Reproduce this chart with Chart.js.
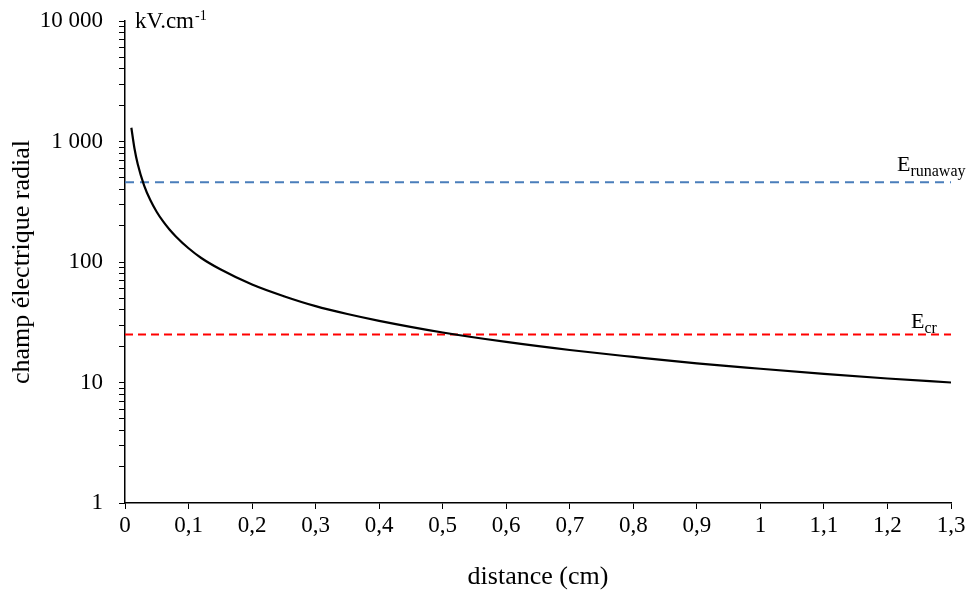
<!DOCTYPE html>
<html>
<head>
<meta charset="utf-8">
<script src="https://cdn.jsdelivr.net/npm/chart.js@4/dist/chart.umd.min.js"></script>
<style>
  html, body { margin: 0; padding: 0; background: #fff; }
  #c { display: block; }
</style>
</head>
<body>
<canvas id="c" width="973" height="590"></canvas>
<script>
// ---- data ----
const distance = [0.01, 0.015, 0.02, 0.03, 0.04, 0.05, 0.06, 0.07, 0.08, 0.1, 0.12, 0.15, 0.2, 0.25, 0.3, 0.35, 0.4, 0.5, 0.6, 0.7, 0.8, 0.9, 1.0, 1.1, 1.2, 1.3];
const champ    = [1300, 870, 650, 433, 325, 260, 217, 186, 163, 130, 108, 87, 65, 52, 43, 37, 32.5, 26, 21.7, 18.6, 16.3, 14.4, 13, 11.8, 10.8, 10];
const eRunaway = 460;
const eCr = 25;
const xRange = [0, 1.3];
const yMajorTicks = [1, 10, 100, 1000, 10000];
const yTickLabels = ['1', '10', '100', '1 000', '10 000'];
const xTitle = 'distance (cm)';
const yTitle = 'champ électrique radial';
const unitLabel = 'kV.cm';
const unitSup = '-1';

const FONT = '"Liberation Serif", "Times New Roman", serif';

const curve = distance.map((d, i) => ({ x: d, y: champ[i] }));
const runawayLine = xRange.map(x => ({ x: x, y: eRunaway }));
const crLine = xRange.map(x => ({ x: x, y: eCr }));

const labelsPlugin = {
  id: 'labels',
  afterDraw(chart) {
    const ctx = chart.ctx;
    const xs = chart.scales.x, ys = chart.scales.y;
    ctx.save();
    ctx.fillStyle = '#000';
    ctx.textBaseline = 'alphabetic';
    ctx.textAlign = 'left';
    // E_runaway
    let x0 = xs.getPixelForValue(xRange[1]) - 54;
    let y0 = ys.getPixelForValue(eRunaway) - 11;
    ctx.font = '22px ' + FONT;
    ctx.fillText('E', x0, y0);
    let w = ctx.measureText('E').width;
    ctx.font = '16px ' + FONT;
    ctx.fillText('runaway', x0 + w, y0 + 5);
    // E_cr
    x0 = xs.getPixelForValue(xRange[1]) - 40;
    y0 = ys.getPixelForValue(eCr) - 7;
    ctx.font = '22px ' + FONT;
    ctx.fillText('E', x0, y0);
    w = ctx.measureText('E').width;
    ctx.font = '16px ' + FONT;
    ctx.fillText('cr', x0 + w, y0 + 5);
    // unit
    x0 = chart.chartArea.left + 10;
    y0 = chart.chartArea.top + 7;
    ctx.font = '23px ' + FONT;
    ctx.fillText(unitLabel, x0, y0);
    w = ctx.measureText(unitLabel).width;
    ctx.font = '14px ' + FONT;
    ctx.fillText(unitSup, x0 + w + 1, y0 - 8);
    ctx.restore();
  }
};

new Chart(document.getElementById('c'), {
  type: 'scatter',
  data: {
    datasets: [
      {
        data: curve, showLine: true, borderColor: '#000', borderWidth: 2.2,
        pointRadius: 0, cubicInterpolationMode: 'monotone', fill: false
      },
      {
        data: runawayLine, showLine: true, borderColor: '#4a7ebb', borderWidth: 2,
        borderDash: [9, 6], pointRadius: 0, fill: false
      },
      {
        data: crLine, showLine: true, borderColor: '#ff0000', borderWidth: 2,
        borderDash: [8, 5], pointRadius: 0, fill: false
      }
    ]
  },
  options: {
    responsive: false,
    animation: false,
    layout: { padding: { left: 0, right: 22, top: 21, bottom: 0 } },
    plugins: { legend: { display: false }, tooltip: { enabled: false } },
    scales: {
      x: {
        type: 'linear', min: xRange[0], max: xRange[1],
        afterFit(s) { s.height = 87; s.paddingLeft = 0; s.paddingRight = 0; },
        border: { color: '#000', width: 1.5 },
        grid: { drawOnChartArea: false, drawTicks: true, tickLength: 6, color: '#000', lineWidth: 1 },
        ticks: {
          stepSize: 0.1, color: '#000', padding: 3,
          font: { family: FONT, size: 23 },
          callback(v) {
            const r = Math.round(v * 10) / 10;
            return String(r).replace('.', ',');
          }
        },
        title: { display: true, text: xTitle, color: '#000', font: { family: FONT, size: 26 }, padding: { top: 0, bottom: -3 } }
      },
      y: {
        type: 'logarithmic', min: yMajorTicks[0], max: yMajorTicks[yMajorTicks.length - 1],
        afterFit(s) { s.width = 125; s.paddingTop = 0; s.paddingBottom = 0; },
        afterBuildTicks(s) {
          const t = [];
          for (let d = 0; d < yMajorTicks.length - 1; d++) {
            for (let k = 1; k <= 9; k++) t.push({ value: yMajorTicks[d] * k, major: k === 1 });
          }
          t.push({ value: yMajorTicks[yMajorTicks.length - 1], major: true });
          s.ticks = t;
        },
        border: { color: '#000', width: 1.5 },
        grid: { drawOnChartArea: false, drawTicks: true, tickLength: 6, color: '#000', lineWidth: 1 },
        ticks: {
          autoSkip: false, color: '#000', padding: 16,
          font: { family: FONT, size: 23 },
          callback(v) {
            const i = yMajorTicks.indexOf(v);
            return i >= 0 ? yTickLabels[i] : '';
          }
        },
        title: { display: true, text: yTitle, color: '#000', font: { family: FONT, size: 26 }, padding: { top: 7, bottom: 0 } }
      }
    }
  },
  plugins: [labelsPlugin]
});
</script>
</body>
</html>
